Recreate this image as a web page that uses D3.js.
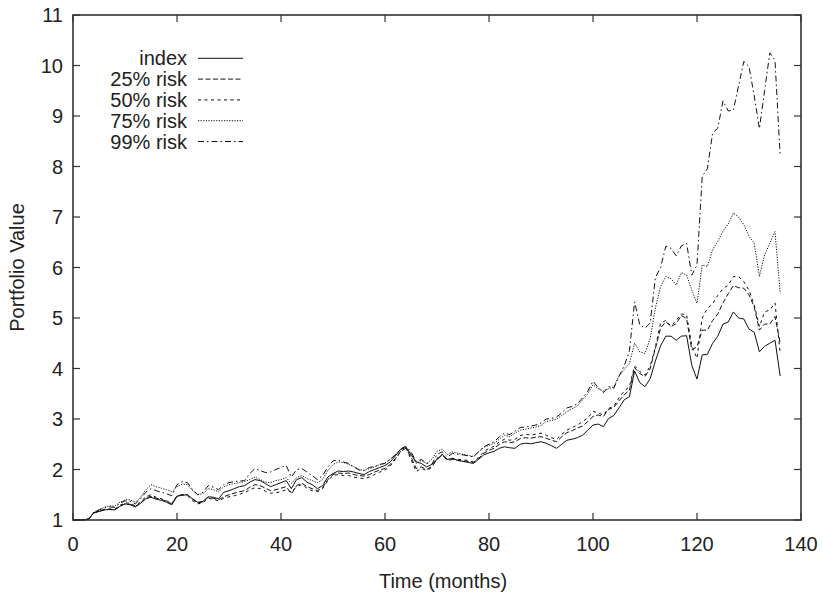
<!DOCTYPE html>
<html>
<head>
<meta charset="utf-8">
<script src="https://cdn.jsdelivr.net/npm/d3@7/dist/d3.min.js"></script>
<style>
  html, body { margin: 0; padding: 0; background: #fff; }
  svg { display: block; }
  text { font-family: "Liberation Sans", Arial, Helvetica, sans-serif; fill: #222; }
</style>
</head>
<body>
<svg id="chart" width="823" height="592"></svg>
<script>
// ---- data (months 0..136) ----
const seriesNames = ["index", "25% risk", "50% risk", "75% risk", "99% risk"];
const xTicks = [0, 20, 40, 60, 80, 100, 120, 140];
const yTicks = [1, 2, 3, 4, 5, 6, 7, 8, 9, 10, 11];

const indexValues = [
  1.0, 1.01, 1.0, 1.02, 1.14, 1.17, 1.2, 1.21, 1.2, 1.27,
  1.32, 1.3, 1.26, 1.33, 1.42, 1.45, 1.41, 1.39, 1.35, 1.3,
  1.47, 1.49, 1.5, 1.42, 1.35, 1.37, 1.46, 1.45, 1.42, 1.55,
  1.58, 1.62, 1.66, 1.68, 1.75, 1.8, 1.78, 1.72, 1.66, 1.7,
  1.74, 1.78, 1.62, 1.8, 1.84, 1.75, 1.7, 1.62, 1.68, 1.85,
  1.92, 1.97, 1.96, 1.97, 1.95, 1.92, 1.9, 1.96, 2.0, 2.04,
  2.08, 2.15, 2.27, 2.4, 2.45, 2.3, 2.15, 2.12, 2.05, 2.1,
  2.2, 2.3, 2.2, 2.22, 2.18, 2.16, 2.14, 2.12, 2.2, 2.29,
  2.33, 2.36, 2.42, 2.45, 2.43, 2.42, 2.5, 2.52, 2.51, 2.53,
  2.55, 2.52, 2.47, 2.42, 2.5, 2.58, 2.6, 2.63, 2.68, 2.78,
  2.88, 2.9, 2.85, 3.01, 3.07, 3.22, 3.38, 3.44, 3.95, 3.72,
  3.64, 3.8, 4.15, 4.45, 4.64, 4.64, 4.56, 4.64, 4.65, 4.06,
  3.79, 4.27, 4.28, 4.5, 4.64, 4.88, 4.92, 5.12, 5.0, 4.98,
  4.78, 4.72, 4.33, 4.44, 4.5, 4.56, 3.85
];
const risk25Values = [
  1.0, 1.0, 1.0, 1.02, 1.14, 1.17, 1.2, 1.21, 1.2, 1.27,
  1.32, 1.31, 1.27, 1.34, 1.44, 1.47, 1.43, 1.41, 1.37, 1.32,
  1.48, 1.5, 1.5, 1.41, 1.34, 1.36, 1.45, 1.43, 1.4, 1.46,
  1.5, 1.53, 1.56, 1.58, 1.65, 1.7, 1.68, 1.63, 1.58, 1.6,
  1.63, 1.66, 1.52, 1.68, 1.73, 1.66, 1.62, 1.58, 1.64, 1.8,
  1.9, 1.93, 1.92, 1.93, 1.9, 1.88, 1.87, 1.9, 1.95, 1.99,
  2.02, 2.1, 2.22, 2.36, 2.42, 2.25, 2.02, 2.05, 2.0, 2.06,
  2.2, 2.28, 2.18, 2.2, 2.18, 2.17, 2.16, 2.14, 2.22, 2.32,
  2.38, 2.42, 2.5, 2.55, 2.53, 2.55, 2.61, 2.63, 2.62, 2.64,
  2.65, 2.62, 2.58, 2.55, 2.65, 2.73, 2.77, 2.82, 2.86, 2.95,
  3.05, 3.08, 3.05, 3.19, 3.23, 3.36, 3.48, 3.57, 4.02, 3.9,
  3.84, 4.0, 4.4, 4.8, 4.93, 4.83, 4.89, 5.05, 4.99, 4.37,
  4.43, 4.76, 4.76, 4.95, 5.08, 5.3, 5.48, 5.64, 5.6, 5.59,
  5.46, 5.22, 4.76, 4.88, 4.88, 5.03, 4.5
];
const risk50Values = [
  1.0, 1.0, 1.0, 1.02, 1.14, 1.18, 1.21, 1.22, 1.21, 1.29,
  1.34, 1.33, 1.28, 1.36, 1.46, 1.5, 1.45, 1.42, 1.38, 1.33,
  1.47, 1.5, 1.48, 1.38, 1.32, 1.34, 1.43, 1.41, 1.38, 1.43,
  1.46, 1.48, 1.51, 1.54, 1.6, 1.64, 1.62, 1.57, 1.53, 1.54,
  1.56, 1.6, 1.55, 1.66, 1.7, 1.63, 1.58, 1.56, 1.62, 1.78,
  1.88, 1.9, 1.88, 1.88, 1.85, 1.83, 1.82, 1.85, 1.9, 1.95,
  1.99, 2.07, 2.2, 2.35, 2.44, 2.2, 1.96, 2.02, 1.98, 2.04,
  2.22, 2.3, 2.2, 2.22, 2.2, 2.19, 2.18, 2.15, 2.24, 2.35,
  2.42, 2.46, 2.55, 2.6, 2.58, 2.6, 2.67, 2.7, 2.68, 2.7,
  2.72, 2.68, 2.63, 2.6, 2.7, 2.78, 2.83, 2.88, 2.95, 3.02,
  3.15, 3.12, 3.08, 3.21, 3.25, 3.42, 3.55, 3.64, 4.05, 3.94,
  3.87, 4.05, 4.42, 4.9, 4.95, 4.84, 4.95, 5.08, 5.06, 4.45,
  4.2, 5.0, 5.19, 5.28, 5.45, 5.58, 5.65, 5.82, 5.82, 5.72,
  5.55, 5.26, 4.83, 5.12, 5.16, 5.3, 4.3
];
const risk75Values = [
  1.0, 1.0, 1.0, 1.02, 1.16, 1.2, 1.25, 1.28, 1.27, 1.35,
  1.4, 1.4, 1.35, 1.45, 1.6, 1.7, 1.66, 1.63, 1.6, 1.56,
  1.66, 1.71, 1.7, 1.58, 1.5, 1.52, 1.62, 1.6, 1.56, 1.66,
  1.7, 1.72, 1.74, 1.76, 1.8, 1.85, 1.8, 1.75, 1.74, 1.78,
  1.8, 1.84, 1.72, 1.84, 1.88, 1.82, 1.78, 1.74, 1.8, 1.98,
  2.1, 2.15, 2.14, 2.1, 2.06, 2.0, 1.98, 2.02, 2.05, 2.1,
  2.13, 2.2, 2.3, 2.4, 2.43, 2.3, 2.12, 2.18, 2.12, 2.2,
  2.36, 2.4, 2.3, 2.35, 2.32, 2.3, 2.28, 2.26, 2.35, 2.44,
  2.48, 2.52, 2.6, 2.68, 2.65, 2.72, 2.78, 2.8, 2.82, 2.84,
  2.87, 2.95, 2.97, 3.0, 3.07, 3.15, 3.2, 3.26, 3.38, 3.5,
  3.68, 3.6, 3.55, 3.6, 3.64, 3.85, 3.98, 4.1, 4.5, 4.33,
  4.3, 4.6, 5.2, 5.62, 5.82, 5.78, 5.65, 5.9, 5.85, 5.55,
  5.29, 6.05, 6.02, 6.35, 6.52, 6.72, 6.86, 7.08, 7.0, 6.85,
  6.62, 6.48, 5.82, 6.25, 6.48, 6.71, 5.49
];
const risk99Values = [
  1.0, 1.0, 1.0, 1.02, 1.15, 1.2, 1.24, 1.26, 1.25, 1.33,
  1.38, 1.37, 1.32, 1.42, 1.55, 1.62, 1.58, 1.55, 1.52, 1.48,
  1.7, 1.76, 1.74, 1.6, 1.5, 1.55, 1.68, 1.65, 1.6, 1.7,
  1.74, 1.76, 1.77, 1.78, 1.92, 2.02, 1.98, 1.94, 1.95, 2.0,
  2.04, 2.08, 1.85, 2.0, 2.02, 1.95, 1.88, 1.8, 1.88, 2.05,
  2.17, 2.19, 2.15, 2.12, 2.05, 1.99, 1.98, 2.04, 2.06, 2.1,
  2.12, 2.2, 2.29, 2.4, 2.46, 2.35, 2.16, 2.2, 2.12, 2.1,
  2.3, 2.35, 2.25, 2.32, 2.3, 2.29, 2.27, 2.25, 2.35, 2.45,
  2.5, 2.55, 2.65, 2.72, 2.69, 2.76, 2.83, 2.84, 2.86, 2.88,
  2.92, 3.0, 3.01, 3.04, 3.12, 3.22, 3.25, 3.3, 3.42, 3.55,
  3.75, 3.62, 3.52, 3.64, 3.61, 3.85, 4.05, 4.35, 5.32, 4.86,
  4.8, 4.9, 5.8, 6.0, 6.42, 6.38, 6.23, 6.43, 6.48, 5.85,
  6.05, 7.8, 7.96, 8.66, 8.76, 9.3, 9.1, 9.12, 9.6, 10.08,
  9.98, 9.4, 8.75, 9.5, 10.25, 10.1, 8.2
];

const seriesValues = [indexValues, risk25Values, risk50Values, risk75Values, risk99Values];
const dashPatterns = ["none", "5,2.5", "3,3.5", "1.2,1.4", "6,3,1.5,3"];

// ---- layout ----
const W = 823, H = 592;
const m = { left: 73, right: 22, top: 15, bottom: 72 };
const iw = W - m.left - m.right, ih = H - m.top - m.bottom;

const svg = d3.select("#chart");
const x = d3.scaleLinear().domain([0, 140]).range([m.left, m.left + iw]);
const y = d3.scaleLinear().domain([1, 11]).range([m.top + ih, m.top]);

const axisColor = "#333";
const tickLen = 7;
const g = svg.append("g");

// ticks (mirrored, inward)
g.selectAll(".xtb").data(xTicks).enter().append("line")
  .attr("x1", d => x(d)).attr("x2", d => x(d))
  .attr("y1", y(1)).attr("y2", y(1) - tickLen)
  .attr("stroke", axisColor).attr("stroke-width", 1.2);
g.selectAll(".xtt").data(xTicks).enter().append("line")
  .attr("x1", d => x(d)).attr("x2", d => x(d))
  .attr("y1", y(11)).attr("y2", y(11) + tickLen)
  .attr("stroke", axisColor).attr("stroke-width", 1.2);
g.selectAll(".ytl").data(yTicks).enter().append("line")
  .attr("x1", x(0)).attr("x2", x(0) + tickLen)
  .attr("y1", d => y(d)).attr("y2", d => y(d))
  .attr("stroke", axisColor).attr("stroke-width", 1.2);
g.selectAll(".ytr").data(yTicks).enter().append("line")
  .attr("x1", x(140)).attr("x2", x(140) - tickLen)
  .attr("y1", d => y(d)).attr("y2", d => y(d))
  .attr("stroke", axisColor).attr("stroke-width", 1.2);

// tick labels
g.selectAll(".xl").data(xTicks).enter().append("text")
  .attr("x", d => x(d)).attr("y", y(1) + 30.5)
  .attr("text-anchor", "middle").attr("font-size", 20)
  .text(d => d);
g.selectAll(".yl").data(yTicks).enter().append("text")
  .attr("x", x(0) - 10).attr("y", d => y(d) + 7)
  .attr("text-anchor", "end").attr("font-size", 20)
  .text(d => d);

// axis titles
svg.append("text").attr("x", 443).attr("y", 587.5)
  .attr("text-anchor", "middle").attr("font-size", 20).text("Time (months)");
svg.append("text").attr("transform", "translate(24," + ((m.top + m.top + ih) / 2) + ") rotate(-90)")
  .attr("text-anchor", "middle").attr("font-size", 20).text("Portfolio Value");

// series
const line = d3.line().x((d, i) => x(i)).y(d => y(d));
const lines = svg.append("g").attr("fill", "none");
seriesValues.forEach((vals, k) => {
  lines.append("path")
    .attr("d", line(vals))
    .attr("stroke", "#111")
    .attr("stroke-width", 1)
    .attr("stroke-linejoin", "round")
    .attr("stroke-dasharray", dashPatterns[k]);
});

// border
svg.append("rect")
  .attr("x", x(0)).attr("y", y(11))
  .attr("width", x(140) - x(0)).attr("height", y(1) - y(11))
  .attr("fill", "none").attr("stroke", axisColor).attr("stroke-width", 1.6);

// legend
const leg = svg.append("g");
seriesNames.forEach((name, k) => {
  const yy = 58.3 + k * 20.8;
  leg.append("text").attr("x", 187).attr("y", yy + 7)
    .attr("text-anchor", "end").attr("font-size", 20).text(name);
  leg.append("line")
    .attr("x1", 198).attr("x2", 243).attr("y1", yy).attr("y2", yy)
    .attr("stroke", "#111").attr("stroke-width", 1)
    .attr("stroke-dasharray", dashPatterns[k]);
});
</script>
</body>
</html>
